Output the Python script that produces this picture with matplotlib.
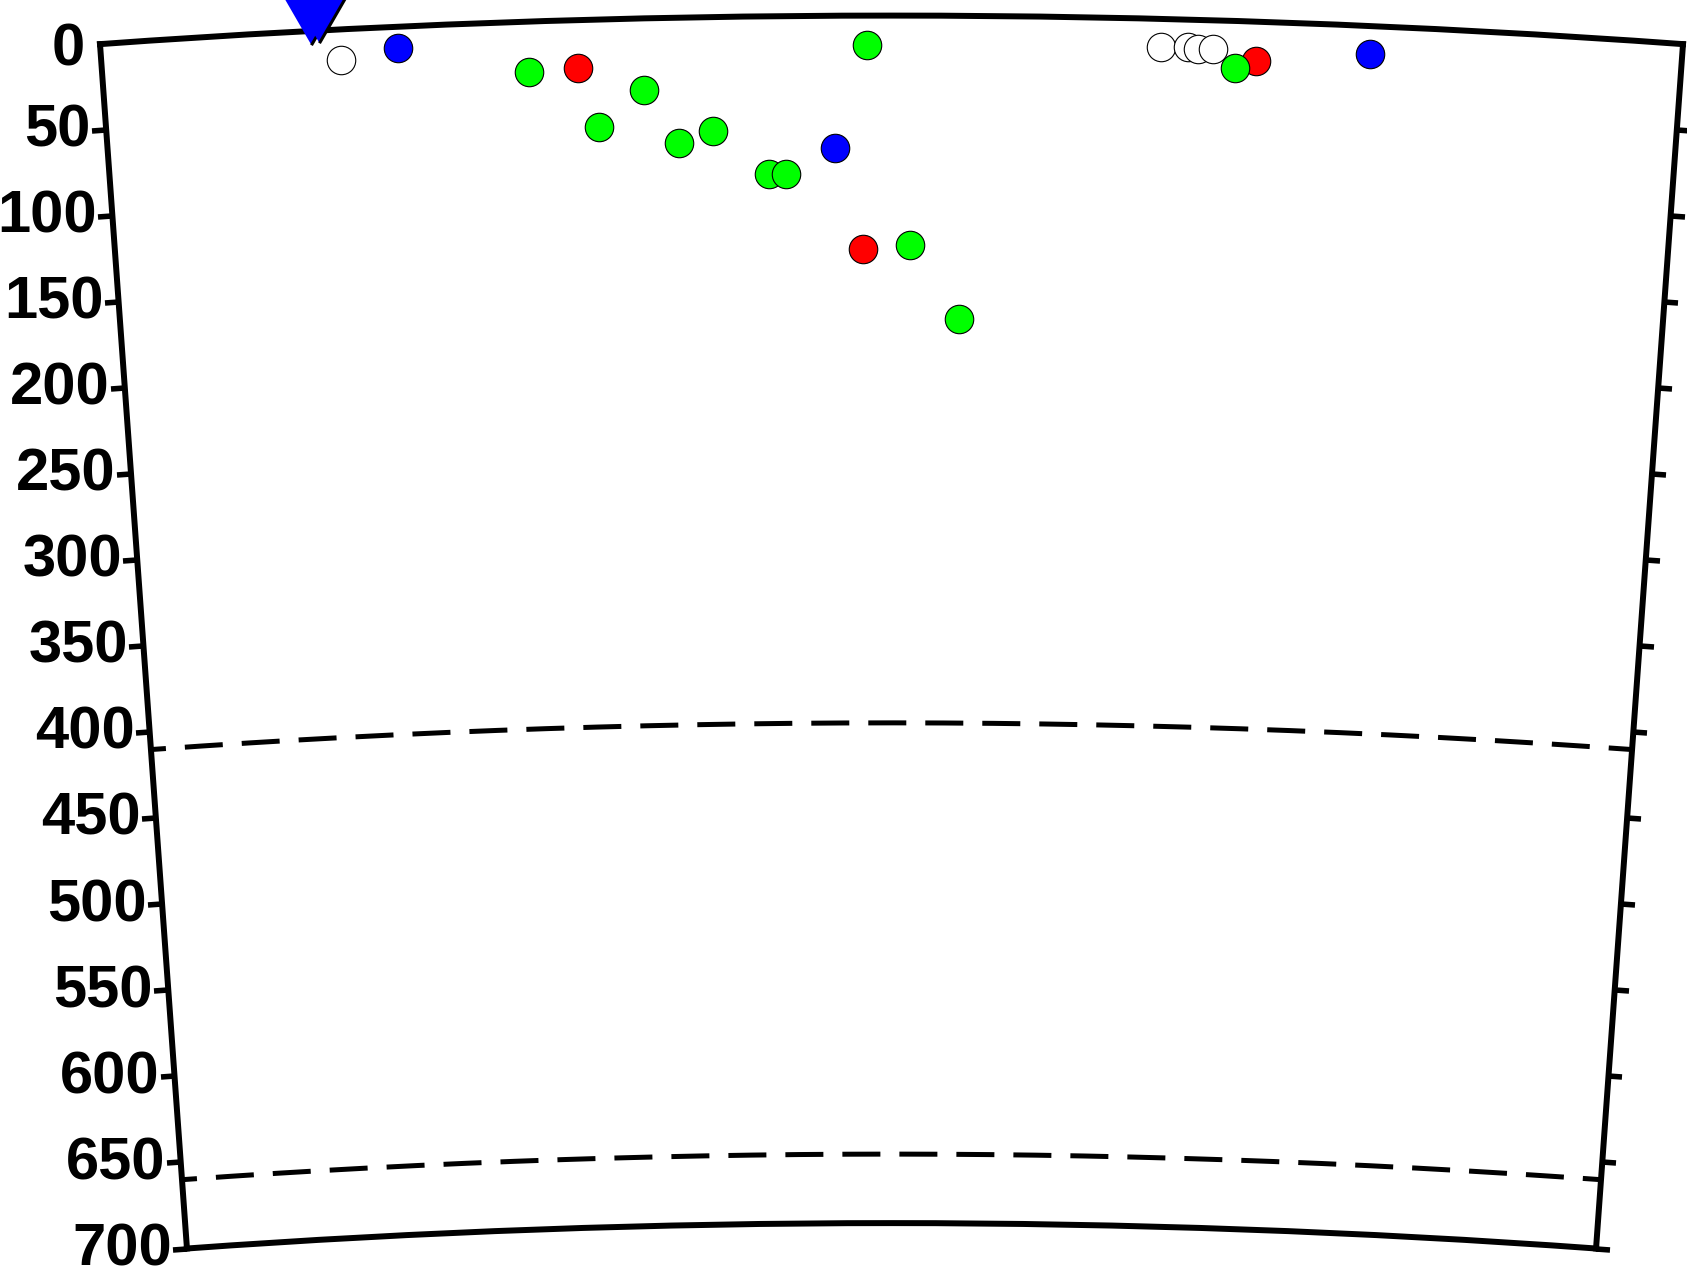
import numpy as np
import matplotlib.pyplot as plt

plt.rcParams['font.family'] = ['Liberation Sans', 'DejaVu Sans']
plt.rcParams['font.weight'] = 'bold'

# cross-section geometry: half opening angle (deg) and earth radius (km)
half_width = 4.13
earth_r = 6371.0
max_depth = 700

depth_ticks = np.arange(50, 701, 50)
discontinuities = [410, 660]

# events: distance along profile (deg from left edge) and depth (km)
white_dist = [1.25, 5.54, 5.68, 5.73, 5.81]
white_depth = [17.7, 16.4, 16.0, 17.1, 16.8]
red_dist = [2.49, 3.98, 6.04]
red_depth = [27.6, 135.2, 22.9]
green_dist = [2.23, 2.83, 2.59, 3.01, 3.19, 3.48, 3.57, 4.00, 4.23, 4.49, 5.93]
green_depth = [29.2, 41.7, 62.3, 72.7, 66.2, 91.6, 91.8, 17.1, 132.7, 175.7, 27.1]
blue_dist = [1.55, 3.83, 6.63]
blue_depth = [12.3, 76.4, 16.0]
# stations (plotted slightly above the surface)
station_dist = [1.11, 1.15]
station_depth = [-12, -13]


def to_polar(dist, depth):
    return np.deg2rad(np.asarray(dist) - half_width), earth_r - np.asarray(depth)


W, H = 1687, 1274
fig = plt.figure(figsize=(W / 100, H / 100), dpi=100)

# place the wedge: left/right edge of top arc and apex in pixels
left_px, right_px, top_px = 100, 1683, 15.6
wpx = right_px - left_px
th = np.deg2rad(half_width)
hpx = wpx * (earth_r - (earth_r - max_depth) * np.cos(th)) / (2 * earth_r * np.sin(th))
yc = H - (top_px + hpx / 2)
ax = fig.add_axes([left_px / W, (yc - wpx / 2) / H, wpx / W, wpx / H], projection='polar')

ax.set_theta_zero_location('N')
ax.set_theta_direction(-1)
ax.set_thetamin(-half_width)
ax.set_thetamax(half_width)
ax.set_ylim(earth_r - max_depth, earth_r)
ax.set_rorigin(0)
ax.grid(False)
ax.set_xticks([])

ax.set_yticks(earth_r - depth_ticks, [str(d) for d in depth_ticks])
ax.set_yticks([earth_r - 2.5], ['0'], minor=True)
ax.tick_params(axis='y', which='major', direction='out', length=10, width=4,
               pad=1, labelsize=43, left=True, right=True,
               labelleft=True, labelright=False)
ax.tick_params(axis='y', which='minor', length=0, pad=11, labelsize=43,
               left=True, right=False, labelleft=True, labelright=False)
for sp in ax.spines.values():
    sp.set_linewidth(4.3)

# 410 / 660 discontinuities
tline = np.linspace(-th, th, 300)
for d in discontinuities:
    ax.plot(tline, np.full_like(tline, earth_r - d), color='black', lw=3.6,
            ls=(4.6, (7.6, 3.8)), clip_on=False)

style = dict(ls='none', marker='o', ms=20.5, mec='black', mew=0.8, clip_on=False)
t, r = to_polar(white_dist, white_depth)
ax.plot(t, r, mfc='white', **style)
t, r = to_polar(red_dist, red_depth)
ax.plot(t, r, mfc='#ff0000', **style)
t, r = to_polar(green_dist, green_depth)
for ti, ri in zip(t, r):
    ax.plot([ti], [ri], mfc='#00ff00', **style)
t, r = to_polar(blue_dist, blue_depth)
ax.plot(t, r, mfc='#0000ff', **style)

tri = [(-0.866, 0.5), (0.866, 0.5), (0, -1)]
t, r = to_polar(station_dist, station_depth)
for ti, ri in zip(t, r):
    ax.plot([ti], [ri], ls='none', marker=tri, ms=50, mfc='#0000ff',
            mec='black', mew=2.2, clip_on=False, zorder=5)

fig.savefig('out.png', dpi=100)
